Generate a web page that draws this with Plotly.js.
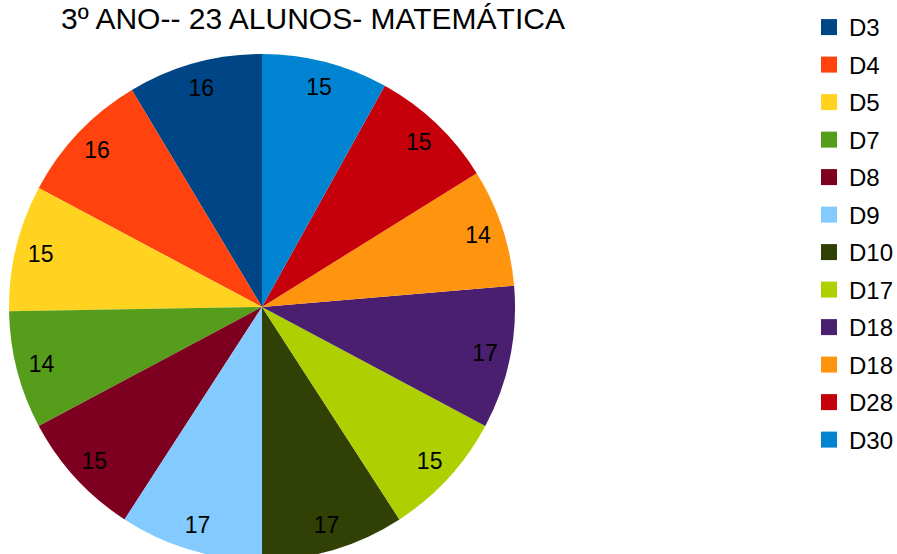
<!DOCTYPE html>
<html>
<head>
<meta charset="utf-8">
<script src="https://cdn.plot.ly/plotly-3.0.1.min.js"></script>
<style>html,body{margin:0;padding:0;background:#fff;overflow:hidden;}#chart{width:897px;height:560px;}</style>
</head>
<body>
<div id="chart"></div>
<script>
var categories = ["D3","D4","D5","D7","D8","D9","D10","D17","D18","D18","D28","D30"];
var values = [16,16,15,14,15,17,17,15,17,14,15,15];
var colors = ["#004586","#ff420e","#ffd320","#579d1c","#7e0021","#83caff","#314004","#aecf00","#4b1f6f","#ff950e","#c5000b","#0084d1"];
var titleText = "3º ANO-- 23 ALUNOS- MATEMÁTICA";

// unique keys so duplicate category names are not merged
var keys = categories.map(function(c, i){ return c + "#" + i; });
var total = values.reduce(function(a, b){ return a + b; }, 0);
var rot = -values[0] / total * 360;
var dom = {x: [9/897, 515/897], y: [0, 1]};
var fontFam = "Liberation Sans, Arial, sans-serif";
var topM = 54, H = 560;
var plotH = H - topM;

var traces = [{
  type: "pie",
  labels: keys,
  values: values,
  sort: false,
  direction: "counterclockwise",
  rotation: rot,
  marker: {colors: colors, line: {width: 0}},
  textinfo: "none",
  hoverinfo: "label+value",
  showlegend: false,
  domain: dom
}, {
  type: "pie",
  labels: keys,
  values: values,
  sort: false,
  direction: "counterclockwise",
  rotation: rot,
  hole: 0.8,
  marker: {colors: colors.map(function(){ return "rgba(0,0,0,0)"; }), line: {width: 0}},
  textinfo: "value",
  textposition: "inside",
  insidetextorientation: "horizontal",
  textfont: {family: fontFam, size: 23, color: "#000"},
  hoverinfo: "skip",
  showlegend: false,
  domain: dom
}];

categories.forEach(function(c, i){
  traces.push({
    type: "scatter",
    mode: "markers",
    x: [null], y: [null],
    name: c,
    legendgroup: "g" + i,
    marker: {symbol: "square", size: 16, color: colors[i]},
    showlegend: true,
    hoverinfo: "skip"
  });
});

var layout = {
  width: 897, height: H,
  margin: {l: 0, r: 0, t: topM, b: 0, autoexpand: false},
  paper_bgcolor: "#fff", plot_bgcolor: "#fff",
  title: {text: titleText, x: 313/897, xanchor: "center", y: 1 - 18/H, yanchor: "middle",
          font: {family: fontFam, size: 30, color: "#000"}},
  xaxis: {visible: false}, yaxis: {visible: false},
  showlegend: true,
  legend: {x: 809/897, xanchor: "left", y: 1 + (topM - 5)/plotH, yanchor: "top",
           font: {family: fontFam, size: 24, color: "#000"}, maxheight: 1000,
           tracegroupgap: 3.3, itemclick: false, bgcolor: "rgba(0,0,0,0)"}
};

Plotly.newPlot("chart", traces, layout, {displayModeBar: false, staticPlot: true});
</script>
</body>
</html>
